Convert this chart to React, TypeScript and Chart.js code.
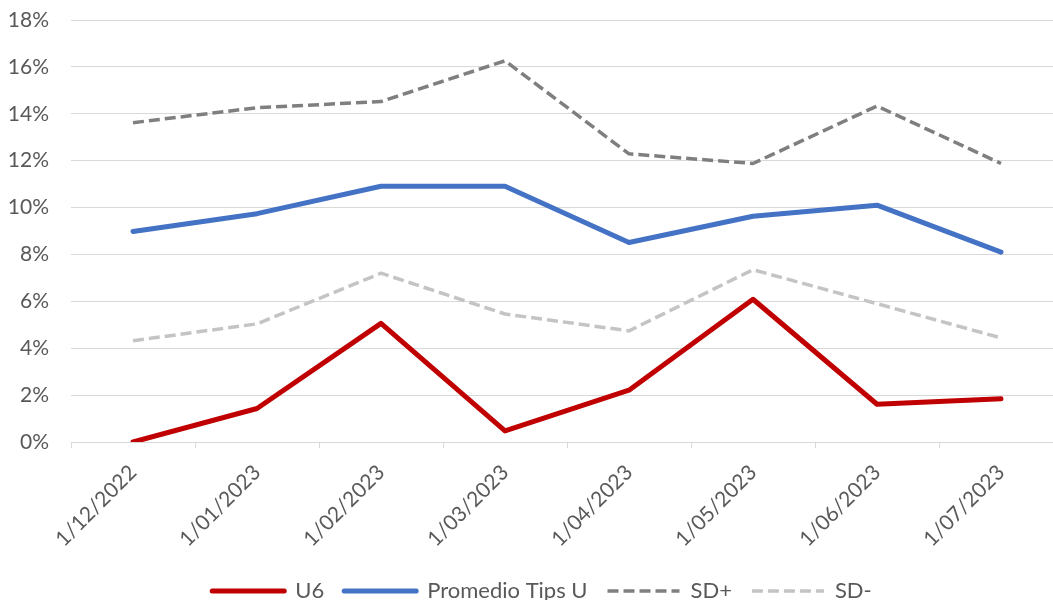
import React, { useEffect, useRef } from "react";
import { Chart, registerables } from "chart.js";

Chart.register(...registerables);

const categories = [
  "1/12/2022",
  "1/01/2023",
  "1/02/2023",
  "1/03/2023",
  "1/04/2023",
  "1/05/2023",
  "1/06/2023",
  "1/07/2023",
];
const u6 = [0.0, 1.43, 5.06, 0.47, 2.21, 6.09, 1.61, 1.84];
const promedioTipsU = [8.98, 9.74, 10.91, 10.91, 8.51, 9.63, 10.1, 8.1];
const sdPlus = [13.62, 14.26, 14.52, 16.26, 12.29, 11.88, 14.33, 11.88];
const sdMinus = [4.32, 5.04, 7.2, 5.46, 4.74, 7.35, 5.9, 4.44];
const yTicks = [0, 2, 4, 6, 8, 10, 12, 14, 16, 18];

const FONT = "Lato, 'Open Sans', sans-serif";
const TEXT = "#595959";
const GRID = "#D9D9D9";

export default function App() {
  const ref = useRef<HTMLCanvasElement | null>(null);

  useEffect(() => {
    if (!ref.current) return;
    const chart = new Chart(ref.current, {
      type: "line",
      data: {
        labels: categories,
        datasets: [
          {
            label: "U6",
            data: u6,
            borderColor: "#C00000",
            backgroundColor: "#C00000",
            borderWidth: 5,
            borderCapStyle: "round",
            borderJoinStyle: "round",
            pointRadius: 0,
            tension: 0,
          },
          {
            label: "Promedio Tips U",
            data: promedioTipsU,
            borderColor: "#4472C4",
            backgroundColor: "#4472C4",
            borderWidth: 5,
            borderCapStyle: "round",
            borderJoinStyle: "round",
            pointRadius: 0,
            tension: 0,
          },
          {
            label: "SD+",
            data: sdPlus,
            borderColor: "#7F7F7F",
            backgroundColor: "#7F7F7F",
            borderWidth: 3.5,
            borderDash: [11, 5],
            borderJoinStyle: "round",
            pointRadius: 0,
            tension: 0,
          },
          {
            label: "SD-",
            data: sdMinus,
            borderColor: "#C4C4C4",
            backgroundColor: "#C4C4C4",
            borderWidth: 3.5,
            borderDash: [11, 5],
            borderJoinStyle: "round",
            pointRadius: 0,
            tension: 0,
          },
        ],
      },
      options: {
        animation: false,
        responsive: false,
        maintainAspectRatio: false,
        layout: { padding: { top: 20, right: 0, left: 0, bottom: 0 } },
        plugins: {
          tooltip: { enabled: false },
          legend: {
            position: "bottom",
            labels: {
              usePointStyle: true,
              pointStyle: "line",
              pointStyleWidth: 72,
              boxHeight: 20,
              padding: 20,
              color: TEXT,
              font: { family: FONT, size: 22 },
              generateLabels: (c: any) =>
                c.data.datasets.map((ds: any, i: number) => ({
                  text: ds.label,
                  fillStyle: ds.borderColor,
                  strokeStyle: ds.borderColor,
                  fontColor: TEXT,
                  lineWidth: ds.borderWidth,
                  lineDash: ds.borderDash || [],
                  lineCap: ds.borderDash ? "butt" : "round",
                  pointStyle: "line",
                  hidden: false,
                  datasetIndex: i,
                })),
            },
          },
        },
        scales: {
          x: {
            type: "category",
            offset: true,
            afterFit: (scale: any) => {
              scale.height = 118;
            },
            grid: {
              offset: true,
              drawOnChartArea: false,
              drawTicks: true,
              tickLength: 6,
              color: GRID,
            },
            border: { display: true, color: GRID, width: 1 },
            ticks: {
              color: TEXT,
              font: { family: FONT, size: 21 },
              minRotation: 45,
              maxRotation: 45,
              padding: 12,
              autoSkip: false,
            },
          },
          y: {
            min: 0,
            max: 18,
            afterFit: (scale: any) => {
              scale.width = 71;
              scale.paddingTop = 0;
              scale.paddingBottom = 0;
            },
            afterBuildTicks: (scale: any) => {
              scale.ticks = yTicks.map((v) => ({ value: v }));
            },
            grid: { color: GRID, lineWidth: 1, drawTicks: false },
            border: { display: false },
            ticks: {
              color: TEXT,
              font: { family: FONT, size: 21 },
              padding: 22,
              callback: (v: any) => `${v}%`,
            },
          },
          yRight: {
            type: "linear",
            position: "right",
            display: true,
            afterFit: (scale: any) => {
              scale.width = 21;
              scale.paddingTop = 0;
              scale.paddingBottom = 0;
            },
            grid: { display: false, drawOnChartArea: false },
            border: { display: false },
            ticks: { display: false },
          },
        },
      },
    });
    return () => chart.destroy();
  }, []);

  return (
    <div
      style={{
        position: "fixed",
        left: 0,
        top: 0,
        width: 1053,
        height: 600,
        overflow: "hidden",
        background: "#ffffff",
      }}
    >
      <canvas ref={ref} width={1084} height={612} style={{ display: "block" }} />
    </div>
  );
}
